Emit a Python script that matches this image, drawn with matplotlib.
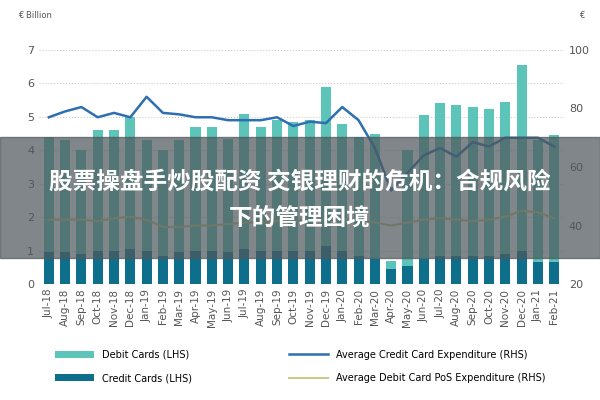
import matplotlib.pyplot as plt
import numpy as np

months = ["Jul-18", "Aug-18", "Sep-18", "Oct-18", "Nov-18", "Dec-18", "Jan-19", "Feb-19",
          "Mar-19", "Apr-19", "May-19", "Jun-19", "Jul-19", "Aug-19", "Sep-19", "Oct-19",
          "Nov-19", "Dec-19", "Jan-20", "Feb-20", "Mar-20", "Apr-20", "May-20", "Jun-20",
          "Jul-20", "Aug-20", "Sep-20", "Oct-20", "Nov-20", "Dec-20", "Jan-21", "Feb-21"]
debit = [4.4, 4.3, 4.0, 4.6, 4.6, 5.0, 4.3, 4.0, 4.3, 4.7, 4.7, 4.35, 5.1, 4.7, 4.9, 4.85,
         4.9, 5.9, 4.8, 4.4, 4.5, 0.7, 4.0, 5.05, 5.4, 5.35, 5.3, 5.25, 5.45, 6.55, 4.3, 4.45]
credit = [0.95, 0.95, 0.9, 1.0, 1.0, 1.05, 1.0, 0.85, 0.95, 1.0, 1.0, 0.95, 1.05, 1.0, 1.0, 1.0,
          1.0, 1.15, 1.0, 0.85, 0.75, 0.45, 0.55, 0.75, 0.85, 0.85, 0.85, 0.85, 0.9, 1.0, 0.65, 0.65]
avg_credit = [77, 79, 80.5, 77, 78.5, 77, 84, 78.5, 78, 77, 77, 76, 76, 76, 77, 74,
              75.5, 75, 80.5, 76, 66.5, 52, 58, 64, 66.5, 63.5, 68.5, 67, 70, 70, 70, 67]
avg_debit = [42, 42, 42, 41.5, 42.5, 43, 42, 39.5, 39.5, 40, 40, 40.5, 41, 41, 41.5, 41.5,
             42, 42, 42, 42, 41, 40, 41, 42, 42.5, 42, 41.5, 42, 43, 45, 44.5, 42.5]

fig = plt.figure(figsize=(6, 4), dpi=100)
ax = fig.add_axes([0.065, 0.29, 0.875, 0.585])
x = np.arange(len(months))
b1 = ax.bar(x, debit, width=0.62, color="#5cc4b8", label="Debit Cards (LHS)", zorder=2)
b2 = ax.bar(x, credit, width=0.62, color="#0e6f8c", label="Credit Cards (LHS)", zorder=3)
ax.set_ylim(0, 7)
ax.set_xlim(-0.6, len(months) - 0.4)
ax.set_xticks(x)
ax.set_xticklabels(months, rotation=90, fontsize=7.5, color="#555555")
ax.tick_params(axis="y", labelsize=8, colors="#555555", length=0)
ax.tick_params(axis="x", length=0)
ax.yaxis.grid(True, linestyle=":", color="#cccccc", zorder=0)
for s in ax.spines.values():
    s.set_visible(False)

ax2 = ax.twinx()
l1, = ax2.plot(x, avg_credit, color="#2e6fb0", lw=1.8, label="Average Credit Card Expenditure (RHS)", zorder=4)
l2, = ax2.plot(x, avg_debit, color="#c9c98a", lw=1.5, label="Average Debit Card PoS Expenditure (RHS)", zorder=4)
ax2.set_ylim(20, 100)
ax2.set_yticks([20, 40, 60, 80, 100])
ax2.tick_params(axis="y", labelsize=8, colors="#555555", length=0)
for s in ax2.spines.values():
    s.set_visible(False)

fig.text(0.03, 0.955, "€ Billion", fontsize=6, color="#555555")
fig.text(0.965, 0.955, "€", fontsize=6, color="#555555")

fig.legend(handles=[b1, b2, l1, l2], loc="lower center", ncol=2, fontsize=7, frameon=False,
           bbox_to_anchor=(0.5, 0.02), columnspacing=10, handlelength=4, labelspacing=1.4)

fig.patches.append(plt.Rectangle((0, 0.355), 1, 0.302, transform=fig.transFigure,
                                 color="#4f585c", alpha=0.72, zorder=10))
fig.text(0.5, 0.545, "股票操盘手炒股配资 交银理财的危机：合规风险", fontsize=17, fontweight="bold",
         color="white", ha="center", va="center", family="Noto Sans CJK SC", zorder=11)
fig.text(0.5, 0.455, "下的管理困境", fontsize=17, fontweight="bold",
         color="white", ha="center", va="center", family="Noto Sans CJK SC", zorder=11)

fig.savefig("out.png")
